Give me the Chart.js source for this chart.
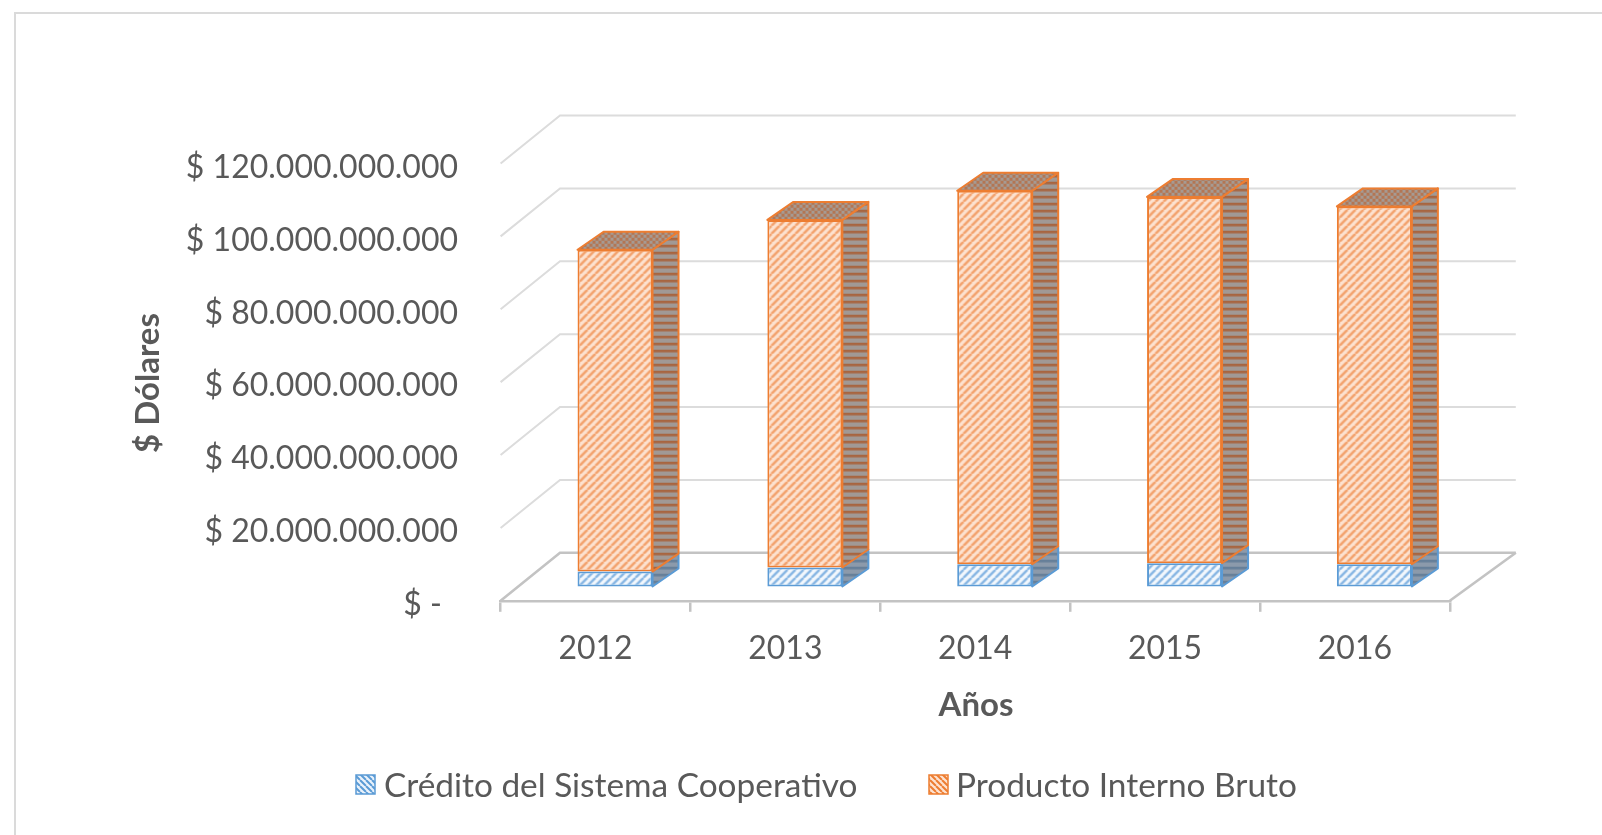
<!DOCTYPE html>
<html><head><meta charset="utf-8">
<script src="https://cdn.jsdelivr.net/npm/chart.js@4.4.1/dist/chart.umd.min.js"></script>
<style>html,body{margin:0;padding:0;background:#fff;overflow:hidden}canvas{display:block}</style>
</head><body>
<canvas id="c" width="1602" height="835"></canvas>
<script>
// ---- data ----
const years = ['2012', '2013', '2014', '2015', '2016'];
const creditoCooperativo = [4.1e9, 5.2e9, 6.1e9, 6.4e9, 6.1e9];
const productoInternoBruto = [88.3e9, 95.4e9, 102.5e9, 100.5e9, 98.2e9];
const seriesLabels = ['Crédito del Sistema Cooperativo', 'Producto Interno Bruto'];
const yTickValues = [0, 20e9, 40e9, 60e9, 80e9, 100e9, 120e9];
const yAxisTitle = '$ Dólares';
const xAxisTitle = 'Años';

// ---- styling helpers ----
const FONT = 'Lato';
const TEXT = '#595959';
function mk(size) { const c = document.createElement('canvas'); c.width = size; c.height = size; return c; }
function stripe(bg, fg, size, lw, dir) {
  const c = mk(size), g = c.getContext('2d');
  g.fillStyle = bg; g.fillRect(0, 0, size, size);
  g.strokeStyle = fg; g.lineWidth = lw;
  if (dir === 'h') { g.fillStyle = fg; g.fillRect(0, 0, size, lw); }
  else {
    g.beginPath();
    for (const k of [-size, 0, size]) {
      if (dir === '/') { g.moveTo(k, size); g.lineTo(k + size, 0); }
      else { g.moveTo(k, 0); g.lineTo(k + size, size); }
    }
    g.stroke();
  }
  return g.createPattern(c, 'repeat');
}
function checker(bg, fg, size) {
  const c = mk(size), g = c.getContext('2d');
  g.fillStyle = bg; g.fillRect(0, 0, size, size);
  g.fillStyle = fg; const h = size / 2;
  g.fillRect(0, 0, h, h); g.fillRect(h, h, h, h);
  return g.createPattern(c, 'repeat');
}
const P = {
  orangeFront: stripe('#fde2d0', '#f3a26d', 8, 2.6, '/'),
  orangeSide: stripe('#a19995', '#a86540', 7, 2.6, 'h'),
  orangeTop: checker('#a69a92', '#b37654', 6),
  blueFront: stripe('#f3f8fd', '#86b5e3', 8, 2.4, '/'),
  blueSide: stripe('#8c9aab', '#667f99', 7, 2.6, 'h'),
  blueLegend: stripe('#eaf2fb', '#5b9bd5', 6, 2, '\\'),
  orangeLegend: stripe('#fde2d0', '#ed7d31', 6, 2, '\\')
};
const ORANGE = '#ed7d31', BLUE = '#5b9bd5';

const SHIFT = { x: 19.5, y: -14.3 };     // front face of bars inside the floor depth
const DEPTH = { dx: 26, dy: -18 };        // bar depth
const WALL = { dxL: 59.4, dxR: 66, dy: -48 }; // full floor depth

function fmt(v) {
  if (v === 0) return '$ -\u2002';
  return '$ ' + String(Math.round(v)).replace(/\B(?=(\d{3})+(?!\d))/g, '.');
}

const scene = {
  id: 'scene',
  beforeDraw(chart) {
    const ctx = chart.ctx;
    ctx.save();
    ctx.strokeStyle = '#dadada'; ctx.lineWidth = 2;
    ctx.beginPath(); ctx.moveTo(15, 835); ctx.lineTo(15, 13); ctx.lineTo(1602, 13); ctx.stroke();
    ctx.restore();
  },
  beforeDatasetsDraw(chart) {
    const ctx = chart.ctx, a = chart.chartArea, ys = chart.scales.y;
    ctx.save();
    for (const v of yTickValues) {
      const yf = ys.getPixelForValue(v), yb = yf + WALL.dy;
      const floor = v === 0;
      ctx.strokeStyle = floor ? '#c3c3c3' : '#dcdcdc';
      ctx.lineWidth = floor ? 2.6 : 2;
      ctx.beginPath();
      ctx.moveTo(a.left, yf); ctx.lineTo(a.left + WALL.dxL, yb); ctx.lineTo(a.right + WALL.dxR, yb);
      ctx.stroke();
    }
    const y0 = ys.getPixelForValue(0);
    ctx.strokeStyle = '#c3c3c3'; ctx.lineWidth = 2.6;
    ctx.beginPath(); ctx.moveTo(a.right, y0); ctx.lineTo(a.right + WALL.dxR, y0 + WALL.dy); ctx.stroke();
    ctx.restore();
    ctx.save();
    ctx.translate(SHIFT.x, SHIFT.y);
  },
  afterDatasetsDraw(chart) {
    const ctx = chart.ctx;
    const styles = [{ side: P.blueSide, top: P.blueSide, stroke: BLUE }, { side: P.orangeSide, top: P.orangeTop, stroke: ORANGE }];
    const n = chart.data.datasets.length;
    chart.data.datasets.forEach((ds, di) => {
      const meta = chart.getDatasetMeta(di);
      meta.data.forEach(el => {
        const p = el.getProps(['x', 'y', 'base', 'width'], true);
        const l = p.x - p.width / 2, r = p.x + p.width / 2;
        const t = Math.min(p.y, p.base), b = Math.max(p.y, p.base);
        const s = styles[di];
        ctx.lineWidth = 2; ctx.strokeStyle = s.stroke; ctx.lineJoin = 'round';
        ctx.beginPath();
        ctx.moveTo(r, t); ctx.lineTo(r + DEPTH.dx, t + DEPTH.dy); ctx.lineTo(r + DEPTH.dx, b + DEPTH.dy); ctx.lineTo(r, b); ctx.closePath();
        ctx.fillStyle = s.side; ctx.fill(); ctx.stroke();
        if (di === n - 1) {
          ctx.beginPath();
          ctx.moveTo(l, t); ctx.lineTo(l + DEPTH.dx, t + DEPTH.dy); ctx.lineTo(r + DEPTH.dx, t + DEPTH.dy); ctx.lineTo(r, t); ctx.closePath();
          ctx.fillStyle = s.top; ctx.fill(); ctx.stroke();
        }
      });
    });
    ctx.restore();
  },
  afterDraw(chart) {
    const ctx = chart.ctx;
    ctx.save();
    ctx.fillStyle = TEXT;
    ctx.font = 'bold 33px ' + FONT;
    ctx.textAlign = 'center'; ctx.textBaseline = 'middle';
    ctx.save(); ctx.translate(148, 383); ctx.rotate(-Math.PI / 2); ctx.fillText(yAxisTitle, 0, 0); ctx.restore();
    ctx.fillText(xAxisTitle, 976, 705);
    // legend
    ctx.font = '33.4px ' + FONT; ctx.textAlign = 'left';
    const items = [{ x: 356, tx: 384, fill: P.blueLegend, stroke: BLUE }, { x: 929, tx: 956, fill: P.orangeLegend, stroke: ORANGE }];
    items.forEach((it, i) => {
      ctx.fillStyle = it.fill; ctx.fillRect(it.x, 775, 19, 19);
      ctx.strokeStyle = it.stroke; ctx.lineWidth = 1.5; ctx.strokeRect(it.x, 775, 19, 19);
      ctx.fillStyle = TEXT; ctx.fillText(seriesLabels[i], it.tx, 786);
    });
    ctx.restore();
  }
};

function make() {
  new Chart(document.getElementById('c'), {
    type: 'bar',
    data: {
      labels: years,
      datasets: [
        { label: seriesLabels[0], data: creditoCooperativo, backgroundColor: P.blueFront, borderColor: BLUE, borderWidth: 2, borderSkipped: false, barPercentage: 0.395, categoryPercentage: 1, clip: false },
        { label: seriesLabels[1], data: productoInternoBruto, backgroundColor: P.orangeFront, borderColor: ORANGE, borderWidth: 2, borderSkipped: false, barPercentage: 0.395, categoryPercentage: 1, clip: false }
      ]
    },
    options: {
      responsive: false, animation: false, devicePixelRatio: 1,
      layout: { padding: { top: 163.5, right: 152.2, left: 0, bottom: 0 } },
      plugins: { legend: { display: false }, tooltip: { enabled: false } },
      scales: {
        x: {
          stacked: true, offset: true,
          grid: { offset: true, drawOnChartArea: false, drawTicks: true, tickLength: 11, color: '#c3c3c3', lineWidth: 2.5 },
          border: { display: true, color: '#c3c3c3', width: 2.6 },
          ticks: { font: { family: FONT, size: 32 }, color: TEXT, padding: 18, maxRotation: 0, autoSkip: false },
          afterFit(s) { s.height = 234.2; }
        },
        y: {
          stacked: true, min: 0, max: 120e9,
          afterBuildTicks(s) { s.ticks = yTickValues.map(v => ({ value: v })); },
          grid: { display: false, drawTicks: false, tickLength: 0 },
          border: { display: false },
          ticks: { font: { family: FONT, size: 32, lineHeight: 0.25 }, color: TEXT, padding: 42.6, callback: v => ['', fmt(v)] },
          afterFit(s) { s.width = 500.6; }
        }
      }
    },
    plugins: [scene]
  });
}
Promise.all([document.fonts.load('32px Lato'), document.fonts.load('bold 32px Lato')]).then(make, make);
</script>
</body></html>
